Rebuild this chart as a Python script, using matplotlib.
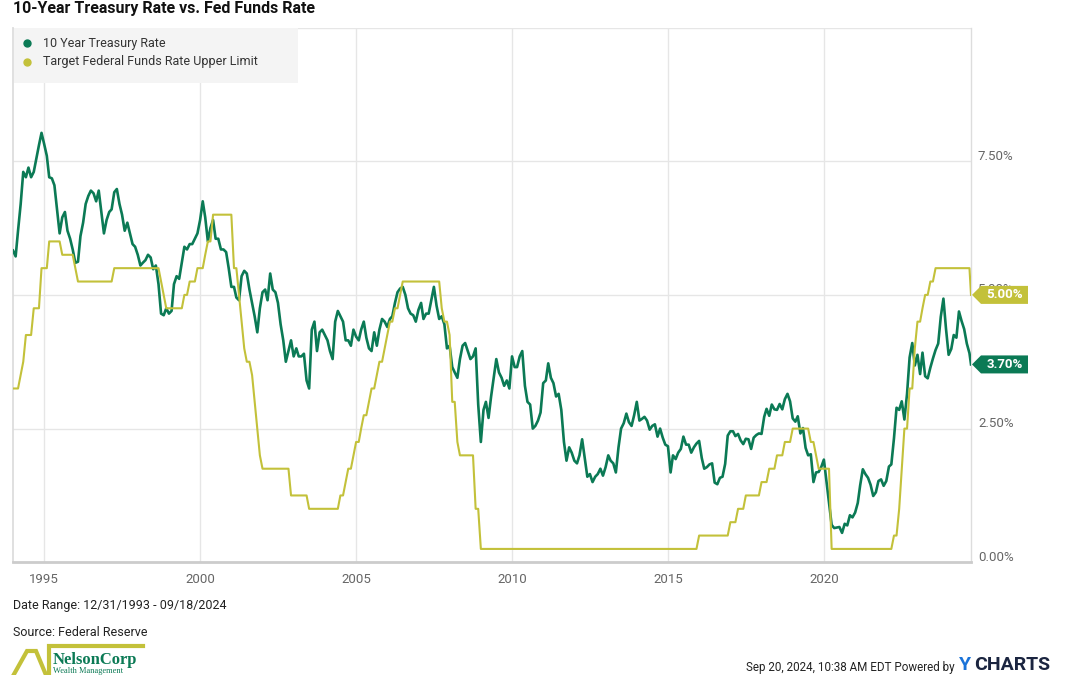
import matplotlib
matplotlib.use("Agg")
import matplotlib.pyplot as plt
import matplotlib.dates as mdates
import matplotlib.transforms as mtransforms
from matplotlib.patches import Polygon, Rectangle
from matplotlib.lines import Line2D
import pandas as pd

plt.rcParams['font.family'] = ['Roboto', 'DejaVu Sans']

# month-end readings, 12/1993 .. 09/2024 (last point is 09/18/2024)
start_date = '1993-12-31'
end_date = '2024-09-18'

treasury_10y = [
    5.83,
    5.72, 6.20, 6.70, 7.30, 7.20, 7.38, 7.20, 7.30, 7.55, 7.80, 8.03, 7.82,  # 1994
    7.60, 7.20, 7.18, 7.05, 6.60, 6.15, 6.45, 6.55, 6.20, 6.05, 5.85, 5.60,  # 1995
    5.62, 6.10, 6.35, 6.70, 6.85, 6.95, 6.90, 6.75, 6.95, 6.55, 6.15, 6.40,  # 1996
    6.55, 6.60, 6.92, 6.98, 6.70, 6.50, 6.20, 6.35, 6.15, 5.95, 5.90, 5.75,  # 1997
    5.55, 5.60, 5.65, 5.75, 5.70, 5.48, 5.55, 5.20, 4.65, 4.62, 4.75, 4.65,  # 1998
    4.70, 5.20, 5.35, 5.30, 5.60, 5.90, 5.85, 5.95, 5.95, 6.05, 6.15, 6.40,  # 1999
    6.75, 6.45, 6.00, 6.25, 6.40, 6.05, 6.05, 5.85, 5.85, 5.80, 5.50, 5.15,  # 2000
    5.15, 4.95, 4.90, 5.35, 5.45, 5.40, 5.10, 4.85, 4.60, 4.30, 4.75, 5.05,  # 2001
    5.10, 4.90, 5.40, 5.10, 5.05, 4.85, 4.45, 4.15, 3.75, 3.95, 4.15, 3.85,  # 2002
    4.00, 3.85, 3.85, 3.90, 3.40, 3.25, 4.35, 4.50, 3.95, 4.30, 4.35, 4.25,  # 2003
    4.15, 3.95, 3.80, 4.50, 4.70, 4.60, 4.50, 4.15, 4.15, 4.05, 4.35, 4.22,  # 2004
    4.15, 4.35, 4.50, 4.20, 4.00, 3.95, 4.30, 4.05, 4.35, 4.55, 4.50, 4.40,  # 2005
    4.55, 4.60, 4.85, 5.05, 5.12, 5.15, 5.00, 4.75, 4.65, 4.62, 4.50, 4.72,  # 2006
    4.85, 4.55, 4.65, 4.65, 4.90, 5.15, 4.80, 4.55, 4.60, 4.45, 4.00, 4.05,  # 2007
    3.65, 3.55, 3.45, 3.80, 4.05, 4.10, 3.95, 3.80, 3.85, 4.00, 2.95, 2.25,  # 2008
    2.85, 3.00, 2.70, 3.10, 3.45, 3.80, 3.55, 3.45, 3.30, 3.40, 3.25, 3.85,  # 2009
    3.65, 3.65, 3.85, 3.95, 3.30, 3.00, 2.95, 2.50, 2.55, 2.65, 2.80, 3.35,  # 2010
    3.40, 3.72, 3.45, 3.35, 3.10, 3.15, 2.85, 2.25, 1.90, 2.15, 2.05, 1.90,  # 2011
    1.85, 2.00, 2.30, 1.95, 1.60, 1.65, 1.50, 1.60, 1.65, 1.75, 1.62, 1.78,  # 2012
    2.00, 1.90, 1.85, 1.68, 2.15, 2.50, 2.60, 2.78, 2.62, 2.55, 2.75, 3.00,  # 2013
    2.65, 2.68, 2.72, 2.65, 2.48, 2.55, 2.58, 2.35, 2.50, 2.33, 2.20, 2.17,  # 2014
    1.68, 2.00, 1.93, 2.05, 2.12, 2.35, 2.20, 2.20, 2.05, 2.15, 2.22, 2.27,  # 2015
    1.95, 1.75, 1.78, 1.83, 1.85, 1.49, 1.46, 1.58, 1.60, 1.84, 2.37, 2.45,  # 2016
    2.45, 2.36, 2.40, 2.28, 2.21, 2.31, 2.30, 2.12, 2.33, 2.38, 2.41, 2.40,  # 2017
    2.72, 2.87, 2.74, 2.95, 2.86, 2.85, 2.96, 2.86, 3.05, 3.15, 3.01, 2.69,  # 2018
    2.63, 2.73, 2.41, 2.51, 2.14, 2.00, 2.02, 1.50, 1.68, 1.69, 1.78, 1.92,  # 2019
    1.51, 1.13, 0.70, 0.64, 0.65, 0.66, 0.55, 0.72, 0.69, 0.88, 0.84, 0.93,  # 2020
    1.11, 1.44, 1.74, 1.65, 1.58, 1.45, 1.24, 1.31, 1.52, 1.55, 1.43, 1.52,  # 2021
    1.79, 1.83, 2.32, 2.89, 2.85, 3.01, 2.67, 3.15, 3.83, 4.10, 3.68, 3.88,  # 2022
    3.52, 3.92, 3.48, 3.44, 3.64, 3.81, 3.97, 4.09, 4.59, 4.93, 4.37, 3.88,  # 2023
    3.99, 4.25, 4.20, 4.69, 4.51, 4.36, 4.09, 3.91, 3.70,                    # 2024
]

fed_upper = [
    3.25,
    3.25, 3.25, 3.50, 3.75, 4.25, 4.25, 4.25, 4.75, 4.75, 4.75, 5.50, 5.50,  # 1994
    5.50, 6.00, 6.00, 6.00, 6.00, 6.00, 5.75, 5.75, 5.75, 5.75, 5.75, 5.50,  # 1995
    5.25, 5.25, 5.25, 5.25, 5.25, 5.25, 5.25, 5.25, 5.25, 5.25, 5.25, 5.25,  # 1996
    5.25, 5.25, 5.50, 5.50, 5.50, 5.50, 5.50, 5.50, 5.50, 5.50, 5.50, 5.50,  # 1997
    5.50, 5.50, 5.50, 5.50, 5.50, 5.50, 5.50, 5.50, 5.25, 5.00, 4.75, 4.75,  # 1998
    4.75, 4.75, 4.75, 4.75, 4.75, 5.00, 5.00, 5.25, 5.25, 5.25, 5.50, 5.50,  # 1999
    5.50, 5.75, 6.00, 6.00, 6.50, 6.50, 6.50, 6.50, 6.50, 6.50, 6.50, 6.50,  # 2000
    5.50, 5.50, 5.00, 4.50, 4.00, 3.75, 3.75, 3.50, 3.00, 2.50, 2.00, 1.75,  # 2001
    1.75, 1.75, 1.75, 1.75, 1.75, 1.75, 1.75, 1.75, 1.75, 1.75, 1.25, 1.25,  # 2002
    1.25, 1.25, 1.25, 1.25, 1.25, 1.00, 1.00, 1.00, 1.00, 1.00, 1.00, 1.00,  # 2003
    1.00, 1.00, 1.00, 1.00, 1.00, 1.25, 1.25, 1.50, 1.75, 1.75, 2.00, 2.25,  # 2004
    2.25, 2.50, 2.75, 2.75, 3.00, 3.25, 3.25, 3.50, 3.75, 3.75, 4.00, 4.25,  # 2005
    4.50, 4.50, 4.75, 4.75, 5.00, 5.25, 5.25, 5.25, 5.25, 5.25, 5.25, 5.25,  # 2006
    5.25, 5.25, 5.25, 5.25, 5.25, 5.25, 5.25, 5.25, 4.75, 4.50, 4.50, 4.25,  # 2007
    3.00, 3.00, 2.25, 2.00, 2.00, 2.00, 2.00, 2.00, 2.00, 1.00, 1.00, 0.25,  # 2008
    0.25, 0.25, 0.25, 0.25, 0.25, 0.25, 0.25, 0.25, 0.25, 0.25, 0.25, 0.25,  # 2009
    0.25, 0.25, 0.25, 0.25, 0.25, 0.25, 0.25, 0.25, 0.25, 0.25, 0.25, 0.25,  # 2010
    0.25, 0.25, 0.25, 0.25, 0.25, 0.25, 0.25, 0.25, 0.25, 0.25, 0.25, 0.25,  # 2011
    0.25, 0.25, 0.25, 0.25, 0.25, 0.25, 0.25, 0.25, 0.25, 0.25, 0.25, 0.25,  # 2012
    0.25, 0.25, 0.25, 0.25, 0.25, 0.25, 0.25, 0.25, 0.25, 0.25, 0.25, 0.25,  # 2013
    0.25, 0.25, 0.25, 0.25, 0.25, 0.25, 0.25, 0.25, 0.25, 0.25, 0.25, 0.25,  # 2014
    0.25, 0.25, 0.25, 0.25, 0.25, 0.25, 0.25, 0.25, 0.25, 0.25, 0.25, 0.50,  # 2015
    0.50, 0.50, 0.50, 0.50, 0.50, 0.50, 0.50, 0.50, 0.50, 0.50, 0.50, 0.75,  # 2016
    0.75, 0.75, 1.00, 1.00, 1.00, 1.25, 1.25, 1.25, 1.25, 1.25, 1.25, 1.50,  # 2017
    1.50, 1.50, 1.75, 1.75, 1.75, 2.00, 2.00, 2.00, 2.25, 2.25, 2.25, 2.50,  # 2018
    2.50, 2.50, 2.50, 2.50, 2.50, 2.50, 2.25, 2.25, 2.00, 1.75, 1.75, 1.75,  # 2019
    1.75, 1.75, 0.25, 0.25, 0.25, 0.25, 0.25, 0.25, 0.25, 0.25, 0.25, 0.25,  # 2020
    0.25, 0.25, 0.25, 0.25, 0.25, 0.25, 0.25, 0.25, 0.25, 0.25, 0.25, 0.25,  # 2021
    0.25, 0.25, 0.50, 0.50, 1.00, 1.75, 2.50, 2.50, 3.25, 3.25, 4.00, 4.50,  # 2022
    4.50, 4.75, 5.00, 5.00, 5.25, 5.25, 5.50, 5.50, 5.50, 5.50, 5.50, 5.50,  # 2023
    5.50, 5.50, 5.50, 5.50, 5.50, 5.50, 5.50, 5.50, 5.00,                    # 2024
]

year_ticks = [1995, 2000, 2005, 2010, 2015, 2020]
pct_ticks = [0, 2.5, 5, 7.5, 10]
pct_labels = ['0.00%', '2.50%', '5.00%', '7.50%', '']

series_names = ['10 Year Treasury Rate', 'Target Federal Funds Rate Upper Limit']
green = '#0b7a55'
yellow = '#c3c13a'

W, H = 1080, 675


def fx(px):
    return px / W


def fy(py):
    return 1 - py / H


dates = pd.date_range(start_date, periods=len(treasury_10y), freq='ME')
dates = dates[:-1].append(pd.DatetimeIndex([end_date]))

fig = plt.figure(figsize=(10.8, 6.75), dpi=100)
ax = fig.add_axes([fx(13), fy(562.3), fx(971 - 13), (562.3 - 27.5) / H])

ax.plot(dates, treasury_10y, color=green, lw=1.9, zorder=3, solid_joinstyle='round')
ax.plot(dates, fed_upper, color=yellow, lw=1.5, zorder=4, solid_joinstyle='round')

ax.set_xlim(dates[0], dates[-1])
ax.set_ylim(0, 10)

ax.set_xticks([pd.Timestamp(f'{y}-01-01') for y in year_ticks])
ax.set_xticklabels([str(y) for y in year_ticks])
ax.set_yticks(pct_ticks)
ax.set_yticklabels(pct_labels)
ax.yaxis.tick_right()
ax.tick_params(axis='y', length=0, pad=5, labelsize=9.5, labelcolor='#666666')
ax.tick_params(axis='x', length=0, pad=8, labelsize=9.5, labelcolor='#666666')
ax.grid(True, color='#e6e6e6', lw=1)
ax.set_axisbelow(True)

# y labels sit a bit above their gridline
shift = mtransforms.ScaledTranslation(0, 0.065, fig.dpi_scale_trans)
for lab in ax.get_yticklabels():
    lab.set_transform(lab.get_transform() + shift)

ax.spines['top'].set_visible(False)
ax.spines['bottom'].set_color('#cccccc')
ax.spines['bottom'].set_linewidth(2)
ax.spines['left'].set_color('#dddddd')
ax.spines['left'].set_linewidth(1.3)
ax.spines['right'].set_color('#dddddd')
ax.spines['right'].set_linewidth(1)

# legend block
fig.add_artist(Rectangle((fx(14), fy(83)), fx(284), 55 / H, transform=fig.transFigure,
                         facecolor='#f4f4f4', edgecolor='none', zorder=5))
for i, (name, c) in enumerate(zip(series_names, [green, yellow])):
    yy = 43 + i * 19
    fig.add_artist(Line2D([fx(27)], [fy(yy)], transform=fig.transFigure, marker='o',
                          markersize=5, color=c, lw=0, zorder=6))
    fig.text(fx(43), fy(yy), name, fontsize=9, color='#333333', va='center', zorder=6)

# end-value tags on the right axis
x_end = mdates.date2num(dates[-1])
for val, c in [(fed_upper[-1], yellow), (treasury_10y[-1], green)]:
    px, py = ax.transData.transform((x_end, val))
    yc = H - py
    pts = [(972, yc), (981, yc - 9), (1028, yc - 9), (1028, yc + 9), (981, yc + 9)]
    fig.add_artist(Polygon([(fx(a), fy(b)) for a, b in pts], closed=True,
                           transform=fig.transFigure, facecolor=c, edgecolor='none', zorder=7))
    fig.text(fx(1005), fy(yc), f'{val:.2f}%', color='white', fontsize=9.5, weight='bold',
             ha='center', va='center', zorder=8)

# title and footer
fig.text(fx(13), fy(8), '10-Year Treasury Rate vs. Fed Funds Rate', fontsize=11.5,
         weight='bold', color='#111111', va='center')
fig.text(fx(13), fy(605), 'Date Range: 12/31/1993 - 09/18/2024', fontsize=9,
         color='#222222', va='center')
fig.text(fx(13), fy(633), 'Source: Federal Reserve', fontsize=9, color='#222222', va='center')
fig.text(fx(955), fy(667), 'Sep 20, 2024, 10:38 AM EDT Powered by', fontsize=8.4,
         color='#222222', va='center', ha='right')
fig.text(fx(959), fy(665), 'Y', fontsize=14, weight='bold', color='#1a73d9', va='center')
fig.text(fx(974), fy(665), 'CHARTS', fontsize=14, weight='bold', color='#1b2540', va='center')

# NelsonCorp mark
logo_x = [13, 27, 36, 46, 49, 49, 143]
logo_y = [676, 651, 651, 675, 675, 646, 646]
fig.add_artist(Line2D([fx(v) for v in logo_x], [fy(v) for v in logo_y], transform=fig.transFigure,
                      color=yellow, lw=3, solid_joinstyle='miter'))
fig.text(fx(53), fy(660), 'NelsonCorp', fontsize=12, weight='bold', color=green, va='center',
         family=['Liberation Serif', 'DejaVu Serif'])
fig.text(fx(53), fy(671), 'Wealth Management', fontsize=6, color=green, va='center',
         family=['Liberation Serif', 'DejaVu Serif'])

fig.savefig('out.png', dpi=100)
